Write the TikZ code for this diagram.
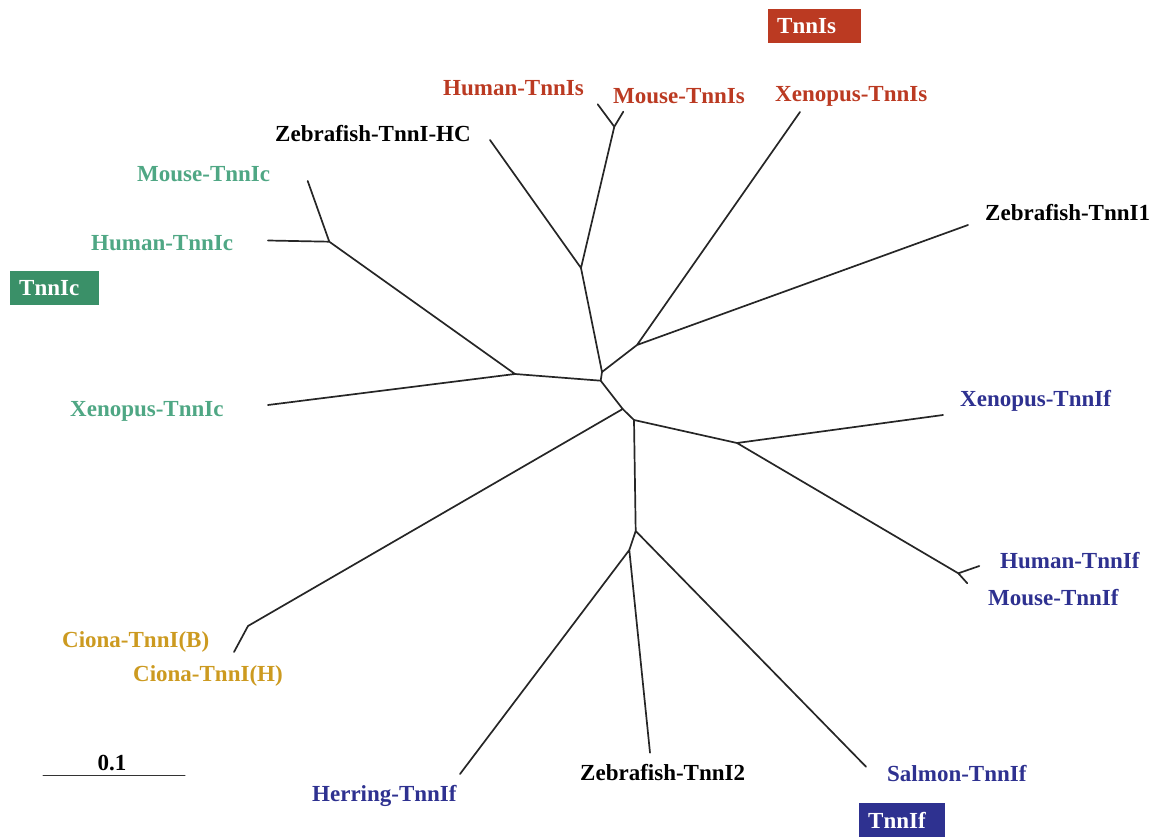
\documentclass[tikz,border=0pt]{standalone}
\usepackage{fontspec}
\setmainfont{Liberation Serif}
\usetikzlibrary{positioning,calc}
\definecolor{isred}{HTML}{BB3A22}
\definecolor{icgreen}{HTML}{4FA784}
\definecolor{icbox}{HTML}{3A9068}
\definecolor{ifblue}{HTML}{2E3190}
\definecolor{ciona}{HTML}{CC9A20}
\tikzset{
	tree/.style={x=1pt, y=-1pt, line join=round, line cap=round},
	branch/.style={draw=black!85, line width=1.7pt},
	leaf/.style={font=\fontsize{23}{26}\selectfont\bfseries, inner sep=0pt, anchor=west, text=#1},
	leaf/.default=black,
	groupbox/.style={fill=#1, text=white, font=\fontsize{23}{26}\selectfont\bfseries,
		anchor=north west, minimum height=34pt, inner xsep=9pt, inner ysep=0pt, align=left}
}

\begin{document}
\begin{tikzpicture}[tree]
	\useasboundingbox (0,0) rectangle (1152,837);
	% inner nodes of the tree
	\coordinate (C) at (602,372);
	\coordinate (B) at (600.7,380.7);
	\coordinate (Jhc) at (581,268);
	\coordinate (Js) at (614.3,126.7);
	\coordinate (J1) at (637,345);
	\coordinate (A) at (515,374);
	\coordinate (Jc) at (329.3,241.7);
	\coordinate (D) at (622.7,409);
	\coordinate (Jci) at (248,626);
	\coordinate (E) at (634,420);
	\coordinate (Jf) at (737,443);
	\coordinate (Jhmf) at (958.3,573.3);
	\coordinate (F) at (635.7,531);
	\coordinate (G) at (629.3,550);
	% tips
	\coordinate (tHCz) at (490,140);
	\coordinate (tHs) at (597.7,104.3);
	\coordinate (tMs) at (623.3,111.7);
	\coordinate (tXs) at (800,112);
	\coordinate (tZ1) at (968,225);
	\coordinate (tXc) at (268,405);
	\coordinate (tHc) at (268,240.5);
	\coordinate (tMc) at (307.7,181);
	\coordinate (tCi) at (234,652);
	\coordinate (tXf) at (943,415);
	\coordinate (tHf) at (979.3,566);
	\coordinate (tMf) at (967.3,583.3);
	\coordinate (tHe) at (460,774);
	\coordinate (tZ2) at (650,752.7);
	\coordinate (tSa) at (866,766.7);

	\draw[branch] (tHCz) -- (Jhc) -- (Js) -- (tHs) (Js) -- (tMs);
	\draw[branch] (Jhc) -- (C) -- (J1) -- (tXs) (J1) -- (tZ1);
	\draw[branch] (C) -- (B) -- (A) -- (tXc) (A) -- (Jc) -- (tHc) (Jc) -- (tMc);
	\draw[branch] (B) -- (D) -- (Jci) -- (tCi);
	\draw[branch] (D) -- (E) -- (Jf) -- (tXf) (Jf) -- (Jhmf) -- (tHf) (Jhmf) -- (tMf);
	\draw[branch] (E) -- (F) -- (G) -- (tHe) (G) -- (tZ2) (F) -- (tSa);

	% labels
	\node[leaf=isred] (hs) at (443,88) {Human-TnnIs};
	\node[leaf=isred] (ms) at (613,96) {Mouse-TnnIs};
	\node[leaf=isred] (xs) at (775,96) {Xenopus-TnnIs};
	\node[leaf] (zhc) at (275,134) {Zebrafish-TnnI-HC};
	\node[leaf] (z1) at (985,213) {Zebrafish-TnnI1};
	\node[leaf=icgreen] (mc) at (137,174) {Mouse-TnnIc};
	\node[leaf=icgreen] (hc) at (91,243) {Human-TnnIc};
	\node[leaf=icgreen] (xc) at (70,411) {Xenopus-TnnIc};
	\node[leaf=ifblue] (xf) at (960,401) {Xenopus-TnnIf};
	\node[leaf=ifblue] (hf) at (1000,561) {Human-TnnIf};
	\node[leaf=ifblue] (mf) at (988,598) {Mouse-TnnIf};
	\node[leaf=ciona] (cb) at (62,642) {Ciona-TnnI(B)};
	\node[leaf=ciona] (ch) at (133,676) {Ciona-TnnI(H)};
	\node[leaf] (z2) at (580,773) {Zebrafish-TnnI2};
	\node[leaf=ifblue] (sa) at (887,774) {Salmon-TnnIf};
	\node[leaf=ifblue] (he) at (312,796) {Herring-TnnIf};

	% group boxes
	\node[groupbox=isred, text width=75pt] (gs) at (768,9) {TnnIs};
	\node[groupbox=icbox, text width=71pt] (gc) at (10,271) {TnnIc};
	\node[groupbox=ifblue, text width=68pt] (gf) at (859,803) {TnnIf};

	% scale bar
	\coordinate (s0) at (43,775);
	\coordinate (s1) at (185,775);
	\draw[draw=black!80, line width=1pt] (s0) -- (s1);
	\node[leaf, anchor=south] (sbar) at ($(s0)!.5!(s1)+(-2,-4)$) {0.1};
\end{tikzpicture}
\end{document}
